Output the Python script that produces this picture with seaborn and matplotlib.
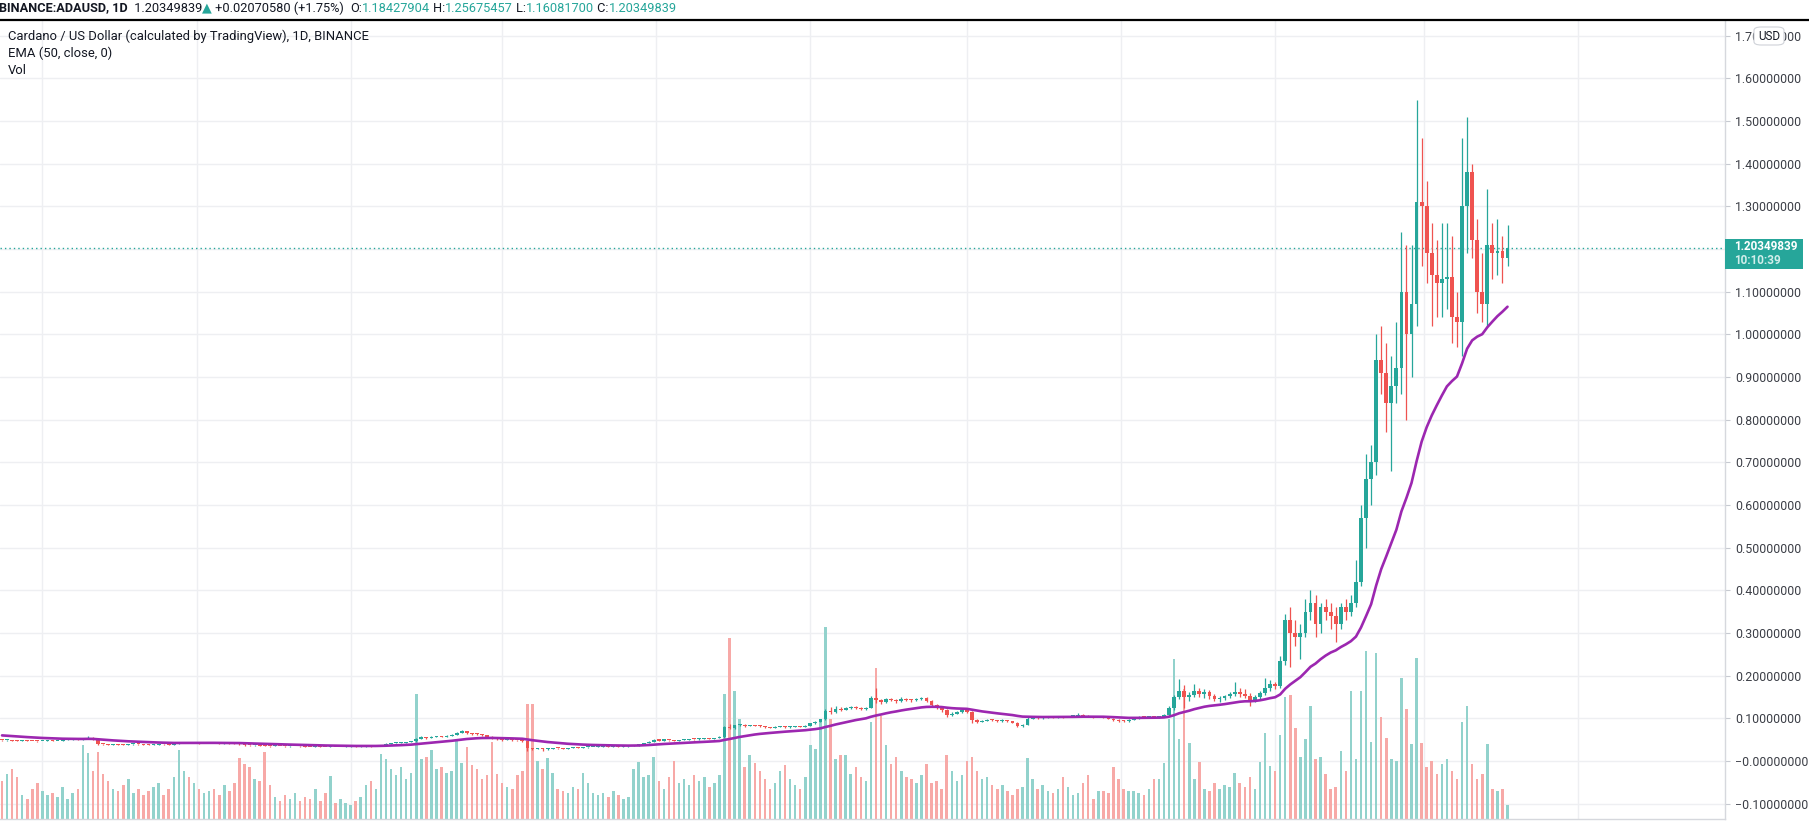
import numpy as np
import pandas as pd
import matplotlib
matplotlib.use("Agg")
import matplotlib.pyplot as plt
import matplotlib.dates as mdates
from matplotlib.patches import Rectangle, FancyBboxPatch
from matplotlib.lines import Line2D
import seaborn as sns

# ADA/USD, two-day candles (Aug 2019 - Apr 2021)
first_date = "2019-08-16"
first_open = 0.0490
close = [
    0.0485, 0.0490, 0.0478, 0.0470, 0.0483, 0.0476, 0.0468, 0.0462, 0.0470, 0.0478,
    0.0465, 0.0472, 0.0488, 0.0497, 0.0505, 0.0498, 0.0512, 0.0548, 0.0500, 0.0400,
    0.0388, 0.0380, 0.0392, 0.0385, 0.0378, 0.0390, 0.0396, 0.0388, 0.0382, 0.0376,
    0.0384, 0.0392, 0.0388, 0.0380, 0.0395, 0.0430, 0.0432, 0.0425, 0.0428, 0.0420,
    0.0426, 0.0432, 0.0428, 0.0418, 0.0422, 0.0415, 0.0410, 0.0395, 0.0372, 0.0365,
    0.0370, 0.0362, 0.0355, 0.0348, 0.0358, 0.0352, 0.0345, 0.0350, 0.0355, 0.0342,
    0.0335, 0.0330, 0.0338, 0.0332, 0.0328, 0.0335, 0.0330, 0.0332, 0.0335, 0.0340,
    0.0338, 0.0345, 0.0352, 0.0348, 0.0362, 0.0378, 0.0405, 0.0412, 0.0420, 0.0432,
    0.0445, 0.0460, 0.0520, 0.0560, 0.0548, 0.0565, 0.0580, 0.0572, 0.0590, 0.0620,
    0.0660, 0.0700, 0.0655, 0.0640, 0.0625, 0.0605, 0.0570, 0.0540, 0.0510, 0.0495,
    0.0505, 0.0490, 0.0482, 0.0470, 0.0295, 0.0285, 0.0300, 0.0275, 0.0290, 0.0305,
    0.0295, 0.0290, 0.0300, 0.0312, 0.0305, 0.0318, 0.0322, 0.0330, 0.0335, 0.0340,
    0.0332, 0.0345, 0.0338, 0.0342, 0.0350, 0.0365, 0.0395, 0.0420, 0.0455, 0.0490,
    0.0480, 0.0495, 0.0488, 0.0478, 0.0492, 0.0500, 0.0515, 0.0505, 0.0520, 0.0530,
    0.0522, 0.0535, 0.0560, 0.0800, 0.0770, 0.0835, 0.0850, 0.0820, 0.0842, 0.0830,
    0.0810, 0.0790, 0.0782, 0.0798, 0.0805, 0.0790, 0.0800, 0.0812, 0.0805, 0.0830,
    0.0880, 0.0920, 0.0975, 0.1180, 0.1150, 0.1230, 0.1200, 0.1235, 0.1260, 0.1240,
    0.1215, 0.1250, 0.1480, 0.1420, 0.1380, 0.1450, 0.1430, 0.1400, 0.1460, 0.1440,
    0.1420, 0.1450, 0.1470, 0.1400, 0.1310, 0.1260, 0.1200, 0.1080, 0.1100, 0.1140,
    0.1190, 0.1160, 0.0960, 0.0920, 0.0945, 0.0960, 0.0955, 0.0940, 0.0950, 0.0935,
    0.0900, 0.0820, 0.0845, 0.0990, 0.1010, 0.1000, 0.1020, 0.1035, 0.1025, 0.1040,
    0.1030, 0.1045, 0.1060, 0.1080, 0.1050, 0.1040, 0.1030, 0.1045, 0.1020, 0.0990,
    0.0960, 0.0945, 0.0935, 0.0960, 0.1000, 0.1030, 0.1020, 0.1040, 0.1025, 0.1035,
    0.1080, 0.1250, 0.1500, 0.1650, 0.1500, 0.1550, 0.1650, 0.1580, 0.1620, 0.1520,
    0.1460, 0.1480, 0.1520, 0.1580, 0.1620, 0.1580, 0.1520, 0.1420, 0.1500, 0.1600,
    0.1720, 0.1800, 0.1750, 0.2350, 0.3300, 0.3000, 0.2900, 0.3000, 0.3500, 0.3700,
    0.3200, 0.3600, 0.3500, 0.3400, 0.3200, 0.3600, 0.3500, 0.3700, 0.4200, 0.5700,
    0.6600, 0.7000, 0.9400, 0.9100, 0.8400, 0.8800, 0.9200, 1.1000, 1.0000, 1.0700,
    1.3100, 1.3000, 1.1900, 1.1400, 1.1200, 1.1300, 1.1350, 1.0400, 1.0300, 1.3000,
    1.3800, 1.2200, 1.1000, 1.0700, 1.2100, 1.1900, 1.1950, 1.1800, 1.20349839,
]
high = [
    0.0500, 0.0502, 0.0495, 0.0484, 0.0492, 0.0490, 0.0480, 0.0474, 0.0480, 0.0486,
    0.0482, 0.0480, 0.0494, 0.0505, 0.0515, 0.0510, 0.0520, 0.0575, 0.0555, 0.0505,
    0.0405, 0.0395, 0.0400, 0.0398, 0.0390, 0.0398, 0.0405, 0.0400, 0.0392, 0.0388,
    0.0392, 0.0400, 0.0398, 0.0392, 0.0400, 0.0455, 0.0448, 0.0440, 0.0436, 0.0432,
    0.0434, 0.0440, 0.0438, 0.0430, 0.0430, 0.0426, 0.0420, 0.0412, 0.0398, 0.0376,
    0.0378, 0.0374, 0.0366, 0.0358, 0.0365, 0.0362, 0.0356, 0.0358, 0.0362, 0.0358,
    0.0346, 0.0340, 0.0345, 0.0342, 0.0336, 0.0342, 0.0340, 0.0338, 0.0342, 0.0348,
    0.0346, 0.0352, 0.0360, 0.0358, 0.0368, 0.0385, 0.0415, 0.0420, 0.0428, 0.0440,
    0.0455, 0.0468, 0.0545, 0.0585, 0.0572, 0.0578, 0.0592, 0.0590, 0.0600, 0.0635,
    0.0675, 0.0720, 0.0710, 0.0665, 0.0650, 0.0635, 0.0612, 0.0585, 0.0550, 0.0520,
    0.0515, 0.0512, 0.0500, 0.0490, 0.0475, 0.0310, 0.0315, 0.0305, 0.0300, 0.0315,
    0.0310, 0.0302, 0.0308, 0.0320, 0.0318, 0.0325, 0.0330, 0.0338, 0.0342, 0.0348,
    0.0345, 0.0352, 0.0350, 0.0350, 0.0356, 0.0372, 0.0405, 0.0430, 0.0465, 0.0505,
    0.0500, 0.0505, 0.0500, 0.0495, 0.0500, 0.0510, 0.0525, 0.0522, 0.0530, 0.0540,
    0.0535, 0.0545, 0.0575, 0.0820, 0.0870, 0.0855, 0.0870, 0.0862, 0.0855, 0.0850,
    0.0835, 0.0815, 0.0800, 0.0810, 0.0820, 0.0812, 0.0810, 0.0825, 0.0822, 0.0840,
    0.0895, 0.0935, 0.0990, 0.1230, 0.1270, 0.1290, 0.1260, 0.1270, 0.1300, 0.1280,
    0.1260, 0.1265, 0.1530, 0.1710, 0.1460, 0.1480, 0.1470, 0.1450, 0.1490, 0.1480,
    0.1460, 0.1480, 0.1510, 0.1490, 0.1420, 0.1340, 0.1280, 0.1220, 0.1150, 0.1170,
    0.1230, 0.1220, 0.1180, 0.0990, 0.0970, 0.0985, 0.0990, 0.0970, 0.0975, 0.0965,
    0.0945, 0.0910, 0.0870, 0.1020, 0.1040, 0.1030, 0.1045, 0.1060, 0.1050, 0.1065,
    0.1055, 0.1065, 0.1090, 0.1120, 0.1095, 0.1070, 0.1060, 0.1065, 0.1055, 0.1030,
    0.1000, 0.0980, 0.0965, 0.0975, 0.1015, 0.1050, 0.1045, 0.1060, 0.1050, 0.1055,
    0.1100, 0.1300, 0.1550, 0.1920, 0.1780, 0.1620, 0.1800, 0.1720, 0.1680, 0.1660,
    0.1580, 0.1520, 0.1550, 0.1620, 0.1850, 0.1700, 0.1680, 0.1600, 0.1550, 0.1650,
    0.1950, 0.1900, 0.1860, 0.2450, 0.3450, 0.3600, 0.3300, 0.3200, 0.3800, 0.4000,
    0.3900, 0.3700, 0.3800, 0.3700, 0.3600, 0.3700, 0.3800, 0.3900, 0.4700, 0.6000,
    0.7200, 0.7400, 1.0000, 1.0200, 0.9800, 0.9500, 1.0300, 1.2400, 1.2100, 1.2100,
    1.5500, 1.4600, 1.3600, 1.2600, 1.2200, 1.2600, 1.2600, 1.2300, 1.1000, 1.4600,
    1.5100, 1.4000, 1.2700, 1.1900, 1.3400, 1.2600, 1.2700, 1.2300, 1.25675457,
]
low = [
    0.0470, 0.0478, 0.0468, 0.0460, 0.0465, 0.0466, 0.0458, 0.0452, 0.0458, 0.0465,
    0.0458, 0.0460, 0.0468, 0.0482, 0.0490, 0.0488, 0.0492, 0.0505, 0.0490, 0.0378,
    0.0372, 0.0368, 0.0375, 0.0376, 0.0368, 0.0374, 0.0385, 0.0380, 0.0372, 0.0366,
    0.0372, 0.0380, 0.0380, 0.0372, 0.0376, 0.0390, 0.0418, 0.0415, 0.0418, 0.0410,
    0.0412, 0.0420, 0.0418, 0.0408, 0.0410, 0.0405, 0.0400, 0.0385, 0.0362, 0.0352,
    0.0358, 0.0352, 0.0345, 0.0336, 0.0342, 0.0344, 0.0336, 0.0340, 0.0345, 0.0335,
    0.0326, 0.0318, 0.0325, 0.0325, 0.0318, 0.0325, 0.0322, 0.0324, 0.0326, 0.0332,
    0.0330, 0.0335, 0.0340, 0.0340, 0.0345, 0.0358, 0.0375, 0.0398, 0.0405, 0.0415,
    0.0425, 0.0440, 0.0455, 0.0505, 0.0525, 0.0540, 0.0555, 0.0555, 0.0565, 0.0585,
    0.0610, 0.0645, 0.0640, 0.0620, 0.0610, 0.0590, 0.0550, 0.0520, 0.0495, 0.0478,
    0.0488, 0.0480, 0.0470, 0.0455, 0.0240, 0.0265, 0.0275, 0.0245, 0.0268, 0.0285,
    0.0282, 0.0276, 0.0285, 0.0295, 0.0295, 0.0300, 0.0312, 0.0318, 0.0325, 0.0330,
    0.0322, 0.0330, 0.0330, 0.0332, 0.0338, 0.0345, 0.0360, 0.0390, 0.0415, 0.0445,
    0.0470, 0.0475, 0.0478, 0.0470, 0.0472, 0.0488, 0.0495, 0.0495, 0.0500, 0.0515,
    0.0512, 0.0518, 0.0530, 0.0550, 0.0740, 0.0755, 0.0815, 0.0805, 0.0810, 0.0815,
    0.0795, 0.0770, 0.0765, 0.0775, 0.0790, 0.0780, 0.0782, 0.0795, 0.0795, 0.0800,
    0.0825, 0.0870, 0.0910, 0.0965, 0.1100, 0.1130, 0.1170, 0.1185, 0.1215, 0.1215,
    0.1190, 0.1200, 0.1240, 0.1350, 0.1340, 0.1370, 0.1400, 0.1370, 0.1390, 0.1410,
    0.1390, 0.1400, 0.1430, 0.1380, 0.1290, 0.1230, 0.1160, 0.1040, 0.1060, 0.1100,
    0.1130, 0.1130, 0.0880, 0.0890, 0.0905, 0.0930, 0.0935, 0.0920, 0.0925, 0.0915,
    0.0880, 0.0790, 0.0805, 0.0840, 0.0985, 0.0980, 0.0995, 0.1010, 0.1005, 0.1015,
    0.1010, 0.1020, 0.1040, 0.1045, 0.1035, 0.1025, 0.1010, 0.1020, 0.1005, 0.0975,
    0.0935, 0.0925, 0.0910, 0.0925, 0.0950, 0.0990, 0.1000, 0.1010, 0.1010, 0.1015,
    0.1020, 0.1060, 0.1200, 0.1450, 0.1240, 0.1400, 0.1500, 0.1500, 0.1480, 0.1450,
    0.1400, 0.1380, 0.1430, 0.1480, 0.1520, 0.1500, 0.1480, 0.1280, 0.1380, 0.1460,
    0.1550, 0.1650, 0.1680, 0.1700, 0.2250, 0.2200, 0.2700, 0.2400, 0.2900, 0.3300,
    0.2900, 0.3000, 0.3300, 0.3100, 0.2800, 0.3100, 0.3300, 0.3400, 0.3600, 0.4100,
    0.5000, 0.6000, 0.6700, 0.8600, 0.7700, 0.6800, 0.8400, 0.8600, 0.8000, 0.9000,
    1.0200, 1.1600, 1.1200, 1.0200, 1.0400, 1.0400, 1.0600, 0.9800, 0.9700, 0.9500,
    1.1900, 1.1800, 1.0500, 1.0300, 1.0200, 1.1300, 1.1400, 1.1200, 1.16081700,
]
volume = [
    38, 45, 50, 42, 24, 20, 30, 36, 28, 24, 26, 22, 32, 20, 26, 30, 74, 66, 48, 67,
    45, 38, 30, 28, 34, 40, 26, 30, 24, 28, 32, 36, 24, 30, 42, 69, 48, 42, 36, 30,
    26, 28, 30, 24, 34, 28, 36, 61, 55, 52, 40, 38, 67, 34, 22, 18, 24, 20, 26, 18,
    22, 20, 30, 18, 26, 43, 16, 20, 16, 14, 18, 22, 34, 38, 30, 65, 60, 50, 44, 52,
    40, 46, 125, 60, 62, 69, 50, 52, 46, 48, 78, 56, 72, 54, 50, 40, 44, 77, 45, 36,
    32, 30, 44, 48, 115, 115, 58, 50, 61, 46, 30, 28, 26, 32, 30, 46, 36, 26, 24, 26,
    22, 28, 24, 20, 22, 50, 57, 42, 44, 62, 38, 30, 42, 58, 36, 40, 34, 44, 38, 42,
    32, 36, 44, 125, 181, 128, 100, 52, 64, 56, 48, 40, 30, 36, 48, 54, 40, 34, 30, 42,
    74, 70, 100, 192, 100, 60, 64, 64, 45, 52, 42, 38, 97, 151, 103, 74, 55, 62, 48, 42,
    40, 36, 44, 55, 36, 38, 30, 64, 48, 38, 44, 58, 62, 48, 40, 42, 34, 30, 34, 28,
    24, 30, 32, 61, 40, 30, 34, 28, 26, 30, 42, 32, 24, 26, 36, 44, 20, 28, 28, 26,
    52, 40, 30, 28, 28, 26, 24, 30, 40, 40, 56, 100, 160, 80, 130, 76, 40, 57, 30, 28,
    36, 30, 34, 32, 46, 36, 32, 42, 30, 57, 86, 53, 48, 84, 122, 124, 91, 62, 80, 113,
    60, 62, 45, 30, 32, 68, 48, 128, 60, 128, 168, 77, 166, 102, 81, 60, 58, 141, 110, 75,
    161, 76, 52, 58, 45, 55, 60, 48, 40, 97, 113, 55, 40, 45, 75, 30, 28, 30, 14,
]
ema_length = 50            # EMA (50, close) on daily bars
ema_start = 0.061          # EMA value at the left edge of the chart
last_price = 1.20349839

UP = "#26a69a"
DOWN = "#ef5350"
UP_VOL = "#92d2cc"
DOWN_VOL = "#f7a9a7"
TEXT = "#131722"

sns.set_theme(style="white")
plt.rcParams["font.family"] = ["Roboto", "DejaVu Sans"]

W, H = 1809, 821
fig = plt.figure(figsize=(W / 100, H / 100), dpi=100)
ax = fig.add_axes([0, 2 / H, 1725 / W, 799 / H])

close = np.array(close)
high = np.array(high)
low = np.array(low)
volume = np.array(volume, dtype=float)
opens = np.r_[first_open, close[:-1]]
high = np.maximum(high, np.maximum(opens, close))
low = np.minimum(low, np.minimum(opens, close))
dates = pd.date_range(first_date, periods=len(close), freq="2D")
xd = mdates.date2num(dates)
up = close >= opens

# ema on the two-day bars
alpha = 2 / (ema_length / 2 + 1)
ema = []
prev = ema_start
for c in close:
    prev = prev + alpha * (c - prev)
    ema.append(prev)
df = pd.DataFrame({"date": dates, "ema": ema})

ymin, ymax = -0.1359, 1.7367
ax.set_ylim(ymin, ymax)
x0 = xd[0]
ax.set_xlim(x0 - 0.8, x0 + 682.1)

# volume bars in the lower part of the pane
vh = volume * (ymax - ymin) / 800
ax.bar(xd, vh, bottom=ymin, width=1.0, color=np.where(up, UP_VOL, DOWN_VOL),
       linewidth=0, zorder=1)

# candles
cols = np.where(up, UP, DOWN)
ax.vlines(xd, low, high, colors=cols, linewidth=0.9, zorder=3)
body_lo = np.minimum(opens, close)
body_h = np.maximum(np.abs(close - opens), 0.0025)
ax.bar(xd, body_h, bottom=body_lo, width=1.5, color=cols, linewidth=0, zorder=3)

sns.lineplot(data=df, x="date", y="ema", ax=ax, color="#9c27b0", linewidth=1.9,
             zorder=4, legend=False)

ax.axhline(last_price, color=UP, linewidth=1.0, linestyle=(0, (1, 2.2)), zorder=2)

# grid and axis
yt = np.round(np.arange(-0.1, 1.71, 0.1), 1)
ax.set_yticks(yt)
labels = []
for v in yt:
    s = f"{abs(v):.8f}"
    if abs(v - 1.2) < 1e-9:
        s = ""          # hidden under the last-price label
    elif v <= 0:
        s = "\u2212" + s
    labels.append(s)
ax.set_yticklabels(labels)
ax.yaxis.tick_right()
ax.tick_params(axis="y", length=3.6, width=0.8, color="#c7cad1", labelsize=8.9,
               labelcolor="#3c3f47", pad=3.6)
ax.xaxis.set_major_locator(mdates.MonthLocator(bymonth=[1, 3, 5, 7, 9, 11]))
ax.tick_params(axis="x", length=0, labelbottom=False)
ax.grid(True, color="#eeeff2", linewidth=1.0, zorder=0)
ax.set_axisbelow(True)
ax.set_xlabel("")
ax.set_ylabel("")
for side in ["left", "top"]:
    ax.spines[side].set_visible(False)
for side in ["right", "bottom"]:
    ax.spines[side].set_color("#d6d8dd")
    ax.spines[side].set_linewidth(1.0)

# header strip
fig.add_artist(Line2D([0, 1], [1 - 20 / H] * 2, transform=fig.transFigure,
                      color="black", linewidth=1.6))
pieces = [
    ("BINANCE:ADAUSD, 1D", TEXT, "bold"),
    ("  1.20349839", TEXT, "normal"),
    ("\u25b2", UP, "normal"),
    (" +0.02070580 (+1.75%)  ", TEXT, "normal"),
    ("O:", TEXT, "normal"),
    ("1.18427904", UP, "normal"),
    (" H:", TEXT, "normal"),
    ("1.25675457", UP, "normal"),
    (" L:", TEXT, "normal"),
    ("1.16081700", UP, "normal"),
    (" C:", TEXT, "normal"),
    ("1.20349839", UP, "normal"),
]
renderer = fig.canvas.get_renderer()
xpos = -1
for txt, col, wt in pieces:
    t = fig.text(xpos / W, 1 - 8 / H, txt, color=col, fontweight=wt, fontsize=9.2,
                 va="center", ha="left")
    bb = t.get_window_extent(renderer=renderer)
    xpos += bb.width

fig.text(8 / W, 1 - 36 / H, "Cardano / US Dollar (calculated by TradingView), 1D, BINANCE",
         color=TEXT, fontsize=9.35, va="center")
fig.text(8 / W, 1 - 53 / H, "EMA (50, close, 0)", color=TEXT, fontsize=9.35, va="center")
fig.text(8 / W, 1 - 71 / H, "Vol", color=TEXT, fontsize=9.35, va="center")

# last price label on the scale
fig.add_artist(Rectangle((1725 / W, 1 - 269 / H), 78 / W, 30 / H,
                         transform=fig.transFigure, facecolor=UP, edgecolor="none"))
fig.text(1734 / W, 1 - 247 / H, "1.20349839", color="white", fontsize=8.4,
         fontweight="bold", va="center")
fig.text(1734 / W, 1 - 261 / H, "10:10:39", color="#d2eeeb", fontsize=8.4,
         fontweight="bold", va="center")

# currency badge
fig.add_artist(FancyBboxPatch((1754 / W, 1 - 45 / H), 30 / W, 18 / H,
                              boxstyle="round,pad=0,rounding_size=0.004",
                              transform=fig.transFigure, facecolor="white",
                              edgecolor="#cfd2d8", linewidth=0.8))
fig.text(1769 / W, 1 - 36 / H, "USD", color=TEXT, fontsize=8.4, ha="center", va="center")

fig.savefig("out.png", dpi=100)
